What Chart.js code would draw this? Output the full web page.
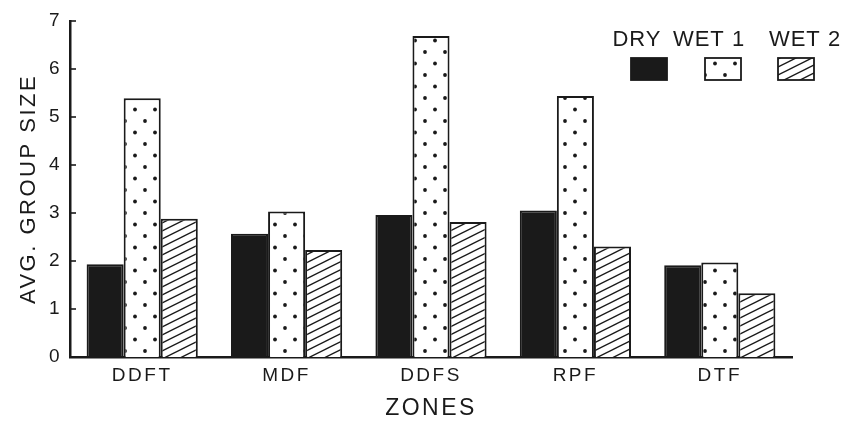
<!DOCTYPE html>
<html>
<head>
<meta charset="utf-8">
<script src="https://cdn.jsdelivr.net/npm/chart.js@4.4.1/dist/chart.umd.min.js"></script>
<style>
  html, body { margin: 0; padding: 0; background: #ffffff; }
  #wrap { width: 841px; height: 424px; position: relative; }
</style>
</head>
<body>
<div id="wrap"><canvas id="c" width="841" height="424"></canvas></div>
<script>
const categories = ['DDFT', 'MDF', 'DDFS', 'RPF', 'DTF'];
const seriesNames = ['DRY', 'WET 1', 'WET 2'];
const dryValues = [1.93, 2.57, 2.96, 3.05, 1.91];
const wet1Values = [5.39, 3.03, 6.69, 5.44, 1.97];
const wet2Values = [2.88, 2.23, 2.81, 2.30, 1.33];
const yTicks = [0, 1, 2, 3, 4, 5, 6, 7];
const yTitle = 'AVG. GROUP SIZE';
const xTitle = 'ZONES';

const INK = '#1a1a1a';
const FONT = "'Liberation Sans', Arial, Helvetica, sans-serif";

function dotPattern() {
  const t = document.createElement('canvas');
  t.width = 20; t.height = 23;
  const g = t.getContext('2d');
  g.fillStyle = '#ffffff'; g.fillRect(0, 0, 20, 23);
  g.fillStyle = INK;
  [[5, 6], [15, 17.5]].forEach(([x, y]) => { g.beginPath(); g.arc(x, y, 1.9, 0, Math.PI * 2); g.fill(); });
  return g.createPattern(t, 'repeat');
}
function hatchPattern() {
  const t = document.createElement('canvas');
  t.width = 16; t.height = 8;
  const g = t.getContext('2d');
  g.fillStyle = '#ffffff'; g.fillRect(0, 0, 16, 8);
  g.strokeStyle = INK; g.lineWidth = 1.4;
  for (let k = -1; k <= 1; k++) {
    g.beginPath(); g.moveTo(-16, 16 + k * 8); g.lineTo(32, -8 + k * 8); g.stroke();
  }
  return g.createPattern(t, 'repeat');
}
const fills = [INK, dotPattern(), hatchPattern()];

const spacingPlugin = {
  id: 'spacing',
  beforeLayout(chart) { chart.ctx.letterSpacing = '2.5px'; },
  beforeDraw(chart) { chart.ctx.letterSpacing = '2.5px'; }
};

const inwardTicks = {
  id: 'inwardTicks',
  afterDatasetsDraw(chart) {
    const y = chart.scales.y, ctx = chart.ctx;
    ctx.save();
    ctx.strokeStyle = INK; ctx.lineWidth = 1.6;
    y.ticks.forEach(t => {
      const py = y.getPixelForValue(t.value);
      ctx.beginPath(); ctx.moveTo(chart.chartArea.left, py); ctx.lineTo(chart.chartArea.left + 6, py); ctx.stroke();
    });
    ctx.restore();
  }
};

const customLegend = {
  id: 'customLegend',
  afterDraw(chart) {
    const ctx = chart.ctx;
    const textCenters = [637, 709, 805];
    const boxLeft = [631, 705, 778];
    ctx.save();
    ctx.letterSpacing = '1px';
    ctx.font = '22px ' + FONT;
    ctx.fillStyle = INK;
    ctx.textAlign = 'center';
    ctx.textBaseline = 'middle';
    chart.data.datasets.forEach((ds, i) => {
      ctx.fillText(ds.label, textCenters[i], 40);
      ctx.fillStyle = ds.backgroundColor;
      ctx.fillRect(boxLeft[i], 58, 36, 22);
      ctx.strokeStyle = INK; ctx.lineWidth = 1.8;
      ctx.strokeRect(boxLeft[i], 58, 36, 22);
      ctx.fillStyle = INK;
    });
    ctx.restore();
  }
};

new Chart(document.getElementById('c'), {
  type: 'bar',
  data: {
    labels: categories,
    datasets: [
      { label: seriesNames[0], data: dryValues, backgroundColor: fills[0] },
      { label: seriesNames[1], data: wet1Values, backgroundColor: fills[1] },
      { label: seriesNames[2], data: wet2Values, backgroundColor: fills[2] }
    ]
  },
  options: {
    responsive: false,
    animation: false,
    devicePixelRatio: 1,
    layout: { padding: { left: 0, right: 49, top: 21, bottom: 0 } },
    datasets: {
      bar: {
        barPercentage: 1.0,
        categoryPercentage: 0.77,
        borderColor: INK,
        borderWidth: 2
      }
    },
    plugins: {
      legend: { display: false },
      tooltip: { enabled: false }
    },
    scales: {
      x: {
        grid: { display: false, drawTicks: false },
        border: { display: true, color: INK, width: 2.5 },
        ticks: { color: INK, font: { family: FONT, size: 19 }, padding: 7 },
        title: { display: true, text: xTitle, color: INK, font: { family: FONT, size: 23 }, padding: { top: 4, bottom: 2 } },
        afterFit(s) { s.height = 67; }
      },
      y: {
        min: 0, max: 7,
        afterBuildTicks(s) { s.ticks = yTicks.map(v => ({ value: v })); },
        grid: { display: false, drawTicks: false },
        border: { display: true, color: INK, width: 2.5 },
        ticks: { color: INK, font: { family: FONT, size: 19 }, padding: 8 },
        title: { display: true, text: yTitle, color: INK, font: { family: FONT, size: 22 }, padding: { top: 16, bottom: 0 } },
        afterFit(s) { s.width = 70; }
      }
    }
  },
  plugins: [spacingPlugin, inwardTicks, customLegend]
});
</script>
</body>
</html>
